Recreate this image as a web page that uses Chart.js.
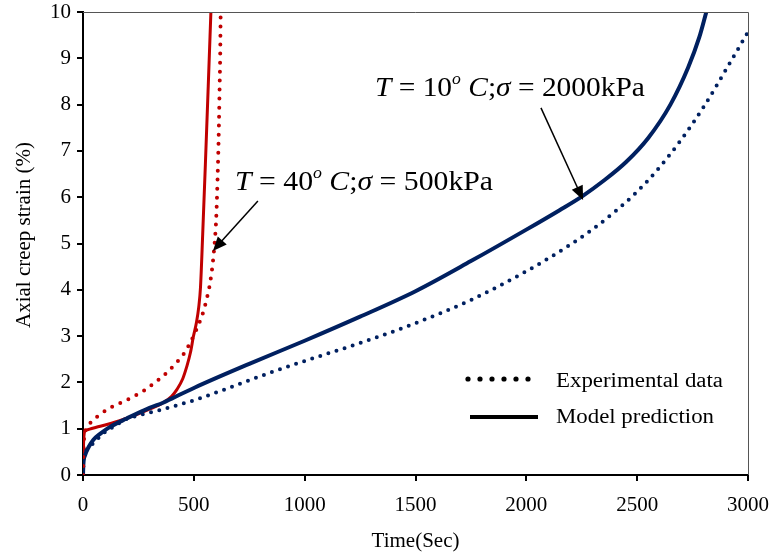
<!DOCTYPE html>
<html>
<head>
<meta charset="utf-8">
<script src="https://cdn.jsdelivr.net/npm/chart.js@4.4.1/dist/chart.umd.min.js"></script>
<style>
  html, body { margin: 0; padding: 0; background: #fff; }
  #c { display: block; }
</style>
</head>
<body>
<canvas id="c" width="772" height="554"></canvas>
<script>
// ---------- DATA ----------
const xTickValues = [0, 500, 1000, 1500, 2000, 2500, 3000];
const yTickValues = [0, 1, 2, 3, 4, 5, 6, 7, 8, 9, 10];

// T = 10 °C, σ = 2000 kPa — model prediction (solid navy)
const tModel10 = [0, 2, 9, 25, 47, 80, 122, 197, 300, 361, 400, 505, 750, 1000, 1250, 1500, 1750, 2000, 2150, 2255, 2350, 2450, 2550, 2650, 2730, 2780, 2812];
const sModel10 = [0, 0.25, 0.42, 0.6, 0.76, 0.9, 1.04, 1.22, 1.45, 1.56, 1.65, 1.89, 2.4, 2.9, 3.42, 3.97, 4.62, 5.3, 5.72, 6.03, 6.36, 6.76, 7.28, 8.0, 8.8, 9.45, 10.0];

// T = 10 °C, σ = 2000 kPa — experimental data (dotted navy)
const tExp10 = [0, 3, 9, 32, 60, 92, 140, 197, 270, 347, 420, 505, 600, 708, 850, 1024, 1250, 1500, 1750, 2000, 2100, 2200, 2300, 2400, 2500, 2600, 2700, 2800, 2900, 3000];
const sExp10 = [0, 0.3, 0.47, 0.61, 0.75, 0.9, 1.05, 1.21, 1.31, 1.4, 1.5, 1.62, 1.78, 1.97, 2.22, 2.5, 2.85, 3.28, 3.78, 4.4, 4.68, 4.98, 5.31, 5.69, 6.12, 6.64, 7.25, 7.95, 8.75, 9.57];

// T = 40 °C, σ = 500 kPa — model prediction (solid red)
const tModel40 = [0, 2, 5, 10, 30, 60, 100, 150, 198, 250, 300, 361, 400, 424, 450, 468, 485, 498, 512, 522, 530, 540, 552, 565, 577];
const sModel40 = [0, 0.6, 0.88, 0.95, 0.99, 1.03, 1.08, 1.15, 1.23, 1.32, 1.42, 1.56, 1.7, 1.85, 2.08, 2.34, 2.65, 2.99, 3.3, 3.62, 4.05, 5.2, 6.7, 8.4, 10.0];

// T = 40 °C, σ = 500 kPa — experimental data (dotted red)
const tExp40 = [0, 2, 6, 15, 32, 75, 122, 175, 226, 280, 333, 380, 424, 455, 483, 510, 541, 558, 575, 590, 601, 607, 612, 616, 619, 621];
const sExp40 = [0, 0.5, 0.85, 1.0, 1.12, 1.3, 1.45, 1.57, 1.69, 1.84, 2.03, 2.22, 2.44, 2.62, 2.85, 3.12, 3.5, 3.8, 4.2, 4.8, 5.55, 6.4, 7.3, 8.3, 9.1, 10.0];

// Annotation anchors in data units [time, strain]
const label40Anchor = [686, 6.16];
const arrow40 = [[789, 5.92], [586, 4.84]];
const label10Anchor = [1317, 8.19];
const arrow10 = [[2066, 7.93], [2256, 5.94]];

const legendLabels = ['Experimental data', 'Model prediction'];

// ---------- HELPERS ----------
const SERIF = '"Liberation Serif", "Times New Roman", serif';
const NAVY = '#002060';
const RED = '#C00000';
const zip = (xs, ys) => xs.map((x, i) => ({ x: x, y: ys[i] }));

function drawRich(ctx, segs, x, y, size, targetWidth) {
  const fontOf = s => (s.italic ? 'italic ' : '') + (s.sup ? size * 0.6 : size) + 'px ' + SERIF;
  let w = 0;
  segs.forEach(s => { ctx.font = fontOf(s); s.w = ctx.measureText(s.t).width; w += s.w; });
  const sx = targetWidth ? targetWidth / w : 1;
  ctx.save();
  ctx.translate(x, y);
  ctx.scale(sx, 1);
  ctx.fillStyle = '#000';
  ctx.textBaseline = 'alphabetic';
  ctx.textAlign = 'left';
  let cx = 0;
  segs.forEach(s => {
    ctx.font = fontOf(s);
    ctx.fillText(s.t, cx, s.sup ? -size * 0.42 : 0);
    cx += s.w;
  });
  ctx.restore();
}

function drawArrow(ctx, x1, y1, x2, y2) {
  const ang = Math.atan2(y2 - y1, x2 - x1);
  const L = 14, H = 6;
  ctx.save();
  ctx.strokeStyle = '#000';
  ctx.fillStyle = '#000';
  ctx.lineWidth = 1.5;
  ctx.beginPath();
  ctx.moveTo(x1, y1);
  ctx.lineTo(x2 - Math.cos(ang) * L * 0.8, y2 - Math.sin(ang) * L * 0.8);
  ctx.stroke();
  ctx.beginPath();
  ctx.moveTo(x2, y2);
  ctx.lineTo(x2 - L * Math.cos(ang) + H * Math.sin(ang), y2 - L * Math.sin(ang) - H * Math.cos(ang));
  ctx.lineTo(x2 - L * Math.cos(ang) - H * Math.sin(ang), y2 - L * Math.sin(ang) + H * Math.cos(ang));
  ctx.closePath();
  ctx.fill();
  ctx.restore();
}

const decorPlugin = {
  id: 'decor',
  afterDraw(chart) {
    const ctx = chart.ctx;
    const a = chart.chartArea;
    const xs = chart.scales.x, ys = chart.scales.y;
    const P = (p) => [xs.getPixelForValue(p[0]), ys.getPixelForValue(p[1])];

    // thin top and right frame
    ctx.save();
    ctx.strokeStyle = '#555';
    ctx.lineWidth = 1;
    ctx.beginPath();
    ctx.moveTo(a.left, a.top + 0.5);
    ctx.lineTo(a.right + 0.5, a.top + 0.5);
    ctx.lineTo(a.right + 0.5, a.bottom);
    ctx.stroke();
    ctx.restore();

    // y axis title
    ctx.save();
    ctx.translate(24, 235);
    ctx.rotate(-Math.PI / 2);
    ctx.font = '21px ' + SERIF;
    ctx.fillStyle = '#000';
    ctx.textAlign = 'center';
    ctx.textBaseline = 'middle';
    ctx.fillText('Axial creep strain (%)', 0, 0);
    ctx.restore();

    // annotations
    const l40 = P(label40Anchor);
    drawRich(ctx, [
      { t: 'T', italic: true }, { t: ' = ' }, { t: '40' }, { t: 'o', italic: true, sup: true },
      { t: ' C', italic: true }, { t: ';' }, { t: 'σ', italic: true }, { t: ' = ' }, { t: '500kPa' }
    ], l40[0], l40[1], 28, 258);
    const l10 = P(label10Anchor);
    drawRich(ctx, [
      { t: 'T', italic: true }, { t: ' = ' }, { t: '10' }, { t: 'o', italic: true, sup: true },
      { t: ' C', italic: true }, { t: ';' }, { t: 'σ', italic: true }, { t: ' = ' }, { t: '2000kPa' }
    ], l10[0], l10[1], 28, 270);

    const a1 = P(arrow40[0]), b1 = P(arrow40[1]);
    drawArrow(ctx, a1[0], a1[1], b1[0], b1[1]);
    const a2 = P(arrow10[0]), b2 = P(arrow10[1]);
    drawArrow(ctx, a2[0], a2[1], b2[0], b2[1]);

    // legend
    ctx.save();
    ctx.fillStyle = '#000';
    for (let i = 0; i < 6; i++) {
      ctx.beginPath();
      ctx.arc(468 + i * 12, 379, 2.6, 0, Math.PI * 2);
      ctx.fill();
    }
    ctx.strokeStyle = '#000';
    ctx.lineWidth = 4;
    ctx.beginPath();
    ctx.moveTo(470, 417);
    ctx.lineTo(538, 417);
    ctx.stroke();
    ctx.restore();
    drawRich(ctx, [{ t: legendLabels[0] }], 556, 387, 20, 167);
    drawRich(ctx, [{ t: legendLabels[1] }], 556, 423, 20, 158);
  }
};

const tickFont = { family: SERIF, size: 21 };

new Chart(document.getElementById('c'), {
  type: 'scatter',
  data: {
    datasets: [
      { label: 'Exp 40', data: zip(tExp40, sExp40), showLine: true, borderColor: RED, borderWidth: 4,
        borderDash: [0, 9], borderCapStyle: 'round', pointRadius: 0, cubicInterpolationMode: 'monotone' },
      { label: 'Exp 10', data: zip(tExp10, sExp10), showLine: true, borderColor: NAVY, borderWidth: 4,
        borderDash: [0, 8.5], borderCapStyle: 'round', pointRadius: 0, cubicInterpolationMode: 'monotone' },
      { label: 'Model 10', data: zip(tModel10, sModel10), showLine: true, borderColor: NAVY, borderWidth: 4,
        pointRadius: 0, cubicInterpolationMode: 'monotone' },
      { label: 'Model 40', data: zip(tModel40, sModel40), showLine: true, borderColor: RED, borderWidth: 3,
        pointRadius: 0, cubicInterpolationMode: 'monotone' }
    ]
  },
  options: {
    responsive: false,
    animation: false,
    devicePixelRatio: 1,
    layout: { padding: { top: 12, right: 24, left: 0, bottom: 0 } },
    plugins: { legend: { display: false }, tooltip: { enabled: false } },
    scales: {
      x: {
        type: 'linear', min: 0, max: 3000,
        afterBuildTicks: s => { s.ticks = xTickValues.map(v => ({ value: v })); },
        ticks: { font: tickFont, color: '#000', padding: 12, maxRotation: 0, autoSkip: false, callback: v => String(v) },
        grid: { display: true, drawOnChartArea: false, drawTicks: true, tickLength: 6, color: '#000', lineWidth: 2 },
        border: { display: true, color: '#000', width: 2 },
        title: { display: true, text: 'Time(Sec)', font: tickFont, color: '#000', padding: { top: 0, bottom: 0 } },
        afterFit: s => { s.height = 79; s.paddingLeft = 0; s.paddingRight = 0; }
      },
      y: {
        type: 'linear', min: 0, max: 10,
        afterBuildTicks: s => { s.ticks = yTickValues.map(v => ({ value: v })); },
        ticks: { font: tickFont, color: '#000', padding: 6, autoSkip: false, callback: v => String(v) },
        grid: { display: true, drawOnChartArea: false, drawTicks: true, tickLength: 6, color: '#000', lineWidth: 2 },
        border: { display: true, color: '#000', width: 2 },
        afterFit: s => { s.width = 83; s.paddingTop = 0; s.paddingBottom = 0; }
      }
    }
  },
  plugins: [decorPlugin]
});
</script>
</body>
</html>
